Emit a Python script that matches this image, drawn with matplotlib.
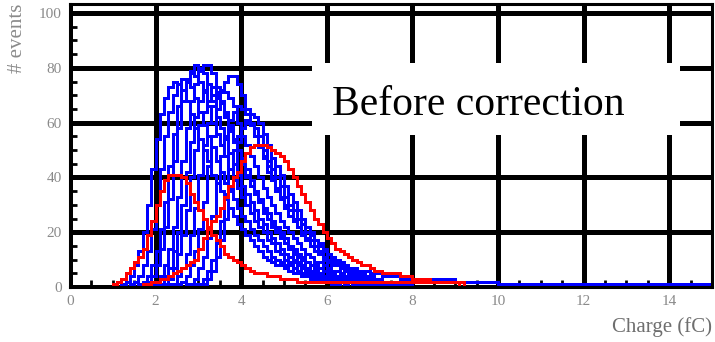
import numpy as np
import matplotlib.pyplot as plt
from matplotlib.patches import Rectangle

# charge histograms, 0.1 fC bins; each series starts at its own first bin edge
bin_w = 0.1

blue_start = [1.2, 1.4, 1.6, 1.7, 1.9, 2.0, 2.1, 2.3, 2.5, 2.7, 2.9, 3.0]
blue_counts = [
    [1, 2, 4, 8, 13, 20, 30, 43, 54, 63, 69, 73, 75,
     74, 72, 68, 63, 58, 54, 50, 46, 41, 38, 35, 32, 29, 26, 23, 21, 19, 17, 15, 13,
     11, 10, 9, 8, 8, 7, 6, 5, 5, 4, 4, 3, 3, 2, 2, 2, 1, 1],
    [1, 2, 4, 8, 13, 21, 30, 43, 55, 64, 70, 74, 76,
     75, 73, 69, 64, 59, 55, 51, 46, 42, 38, 35, 32, 29, 26, 24, 21, 19, 17, 15, 13,
     11, 10, 9, 8, 8, 7, 6, 5, 5, 4, 4, 3, 3, 2, 2, 2, 2, 1],
    [1, 2, 4, 8, 13, 21, 31, 44, 56, 66, 72, 76, 78,
     77, 75, 71, 66, 60, 56, 52, 48, 43, 39, 36, 33, 30, 27, 24, 22, 20, 17, 16, 13,
     12, 10, 9, 9, 8, 7, 6, 5, 5, 4, 4, 3, 3, 2, 2, 2, 2, 1],
    [1, 2, 4, 8, 14, 22, 32, 46, 58, 68, 75, 79, 81,
     80, 78, 74, 68, 62, 58, 54, 49, 45, 41, 37, 34, 31, 28, 25, 23, 20, 18, 16, 14,
     12, 11, 10, 9, 8, 7, 6, 6, 5, 4, 4, 3, 3, 2, 2, 2, 2, 1],
    [1, 2, 4, 8, 14, 22, 33, 46, 58, 68, 74, 79, 81,
     81, 78, 73, 68, 63, 58, 54, 50, 45, 40, 37, 34, 31, 27, 25, 22, 20, 18, 16, 14,
     12, 11, 10, 9, 8, 7, 7, 6, 5, 4, 4, 3, 3, 3, 2, 2, 1, 1],
    [1, 1, 4, 7, 13, 20, 30, 42, 53, 62, 68, 72, 74,
     73, 71, 67, 62, 57, 53, 50, 45, 41, 37, 34, 31, 28, 25, 23, 21, 19, 16, 15, 13,
     11, 10, 9, 8, 7, 7, 6, 5, 4, 4, 4, 3, 3, 2, 2, 1, 1, 1],
    [1, 1, 3, 7, 12, 19, 28, 40, 50, 59, 64, 68, 70,
     69, 67, 64, 59, 54, 50, 47, 43, 39, 35, 32, 29, 27, 24, 22, 20, 18, 15, 14, 12,
     11, 9, 8, 8, 7, 6, 6, 5, 4, 4, 3, 3, 3, 2, 2, 1, 1, 1],
    [1, 1, 4, 7, 12, 19, 29, 41, 52, 60, 66, 70, 72,
     71, 69, 66, 60, 55, 52, 48, 44, 40, 36, 33, 30, 27, 24, 22, 20, 18, 16, 14, 12,
     11, 9, 9, 8, 7, 6, 6, 5, 4, 4, 4, 3, 3, 2, 2, 1, 1, 1],
    [1, 2, 4, 8, 13, 21, 31, 44, 55, 65, 71, 75, 77,
     77, 74, 70, 65, 59, 55, 52, 47, 42, 39, 35, 32, 29, 26, 24, 22, 19, 17, 15, 13,
     12, 10, 9, 8, 8, 7, 6, 5, 5, 4, 4, 3, 3, 2, 2, 2, 1, 1],
    [1, 1, 3, 7, 11, 18, 26, 38, 48, 55, 61, 64, 66,
     65, 63, 60, 55, 51, 48, 44, 40, 36, 33, 30, 28, 25, 22, 20, 18, 17, 15, 13, 11,
     10, 9, 8, 7, 7, 6, 5, 5, 4, 3, 3, 3, 3, 2, 2, 1, 1, 1],
    [1, 1, 3, 6, 10, 16, 24, 34, 43, 50, 55, 58, 60,
     59, 58, 55, 50, 46, 43, 40, 37, 33, 30, 28, 25, 23, 20, 19, 17, 15, 13, 12, 10,
     9, 8, 7, 7, 6, 5, 5, 4, 4, 3, 3, 2, 2, 2, 2, 1, 1, 1],
    [1, 1, 3, 6, 11, 17, 25, 36, 45, 53, 58, 61, 63,
     62, 60, 56, 52, 47, 44, 41, 37, 34, 31, 28, 25, 22, 20, 17, 16, 14, 12, 11, 10,
     9, 8, 7, 7, 6, 6, 6, 5, 5, 5, 4, 4, 4, 4, 3, 3, 3, 3, 3, 3, 3, 3, 3, 3, 3, 3,
     3, 2, 2, 2, 2, 2, 2, 2, 2, 2, 2] + [1] * 52,
]

red_start = [0.2, 1.5]
red_counts = [
    [0, 0, 0, 0, 0, 0, 0, 0,
     1, 2, 3, 5, 7, 9, 11, 14, 19, 24, 30, 35, 39, 41, 41, 41, 40, 38, 34, 31, 28,
     25, 22, 19, 17, 15, 12, 11, 10, 9, 8, 7, 6, 5, 5, 5, 4, 4, 4, 3, 3, 3, 3,
     2, 2, 2, 2, 2, 2, 2, 2, 2, 2, 2, 2, 2, 2, 2, 2, 2, 2, 2, 2, 2, 2, 2, 2, 2, 2,
     2, 2, 2, 2, 2, 2, 2, 2, 2, 2, 2, 2, 2] + [0] * 60,
    [0, 0, 1, 1, 2, 2, 3, 3, 4, 5, 6, 7, 8, 9, 10, 14, 18, 21, 24, 26, 29, 33, 37,
     40, 42, 46, 49, 51, 52, 52, 52, 51, 50, 49, 48, 46, 43, 40, 37, 34, 31, 28,
     25, 23, 20, 18, 16, 14, 13, 12, 11, 10, 9, 8, 8, 7, 6, 6, 5, 5, 5, 5, 4, 4,
     4, 3, 3, 3, 3, 2, 2, 2, 2, 2, 2, 2] + [0] * 60,
]

x_ticks = [0, 2, 4, 6, 8, 10, 12, 14]
y_ticks = [0, 20, 40, 60, 80, 100]

fig = plt.figure(figsize=(7.15, 3.42), dpi=100)
ax = fig.add_axes([0.0979, 0.1608, 0.8979, 0.8275])

for start, counts in zip(blue_start, blue_counts):
    edges = start + bin_w * np.arange(len(counts) + 1)
    ax.stairs(counts, edges, color='#0000ff', lw=2.16, zorder=3)
for start, counts in zip(red_start, red_counts):
    edges = start + bin_w * np.arange(len(counts) + 1)
    ax.stairs(counts, edges, color='#ff0000', lw=2.16, zorder=4)

ax.set_xlim(0, 15)
ax.set_ylim(0, 103.3)
ax.set_xticks(x_ticks)
ax.set_yticks(y_ticks)
ax.set_xticks(np.arange(0, 15.01, 0.5), minor=True)
ax.set_yticks(np.arange(0, 103, 5), minor=True)
ax.grid(True, which='major', color='black', lw=2.2, antialiased=False, zorder=1)
ax.set_axisbelow(True)
ax.tick_params(which='major', length=0, labelsize=11, labelcolor='#8a8a8a', pad=6)
ax.tick_params(which='minor', direction='in', length=5, width=2, color='black')
for lab in ax.get_xticklabels() + ax.get_yticklabels():
    lab.set_family('Liberation Serif')
for s in ax.spines.values():
    s.set_linewidth(2.2)
    s.set_zorder(5)

# white label box over the grid
ax.add_patch(Rectangle((5.65, 55.5), 8.6, 26.3, facecolor='white', edgecolor='none', zorder=2))
ax.text(6.12, 62.8, 'Before correction', family='Liberation Serif', fontsize=30,
        ha='left', va='baseline', zorder=6)

fig.text(0.996, 0.044, 'Charge (fC)', family='Liberation Serif', fontsize=15,
         color='#6e6e6e', ha='right', va='center')
fig.text(0.024, 0.99, '# events', family='Liberation Serif', fontsize=15,
         color='#8a8a8a', ha='center', va='top', rotation=90)

fig.savefig('out.png', dpi=100)
